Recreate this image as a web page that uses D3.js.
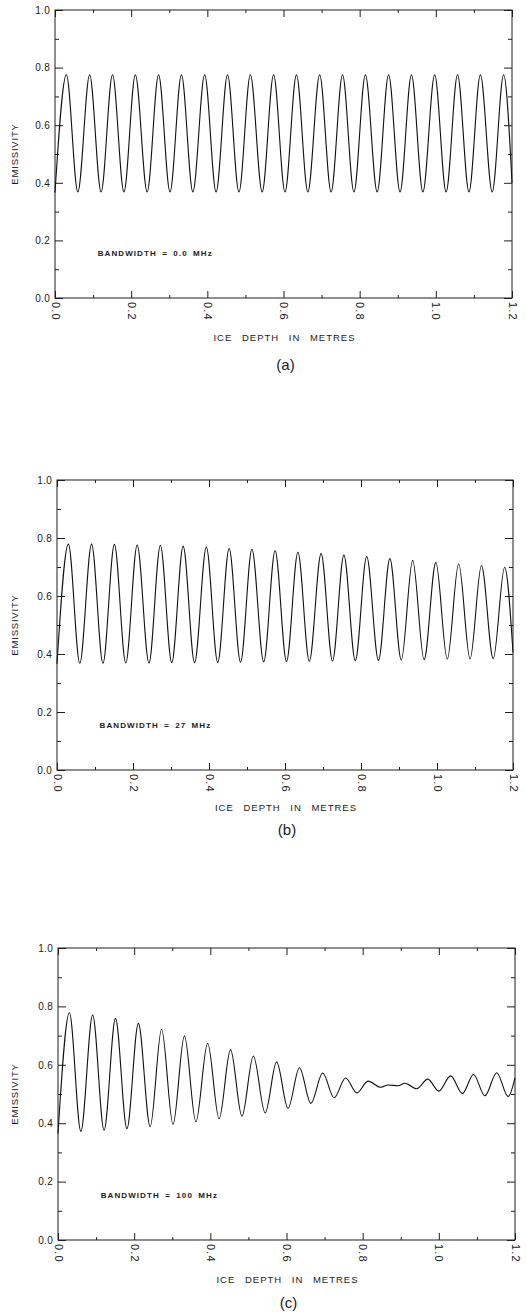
<!DOCTYPE html>
<html>
<head>
<meta charset="utf-8">
<script src="https://cdn.jsdelivr.net/npm/d3@7"></script>
<style>
  body { margin: 0; background: #fff; }
  text { font-family: "Liberation Sans", Arial, sans-serif; fill: #1a1a1a; }
</style>
</head>
<body>
<div id="chart"></div>
<script>
const WIDTH = 526, HEIGHT = 1315;

// ticks
const depthMajor = [0, 0.2, 0.4, 0.6, 0.8, 1.0, 1.2];
const depthMinor = [0.1, 0.3, 0.5, 0.7, 0.9, 1.1];
const emisMajor = [0, 0.2, 0.4, 0.6, 0.8, 1.0];
const emisMinor = [0.1, 0.3, 0.5, 0.7, 0.9];

// depths (m) of the troughs / peaks (a) and (b), plus the end point
const depthAB = [
  0.000, 0.030, 0.060, 0.091, 0.121, 0.151, 0.181, 0.211, 0.242, 0.272,
  0.302, 0.332, 0.362, 0.393, 0.423, 0.453, 0.483, 0.513, 0.544, 0.574,
  0.604, 0.634, 0.664, 0.695, 0.725, 0.755, 0.785, 0.815, 0.846, 0.876,
  0.906, 0.936, 0.966, 0.997, 1.027, 1.057, 1.087, 1.117, 1.148, 1.178,
  1.200
];
// (a) bandwidth 0.0 MHz
const emisA = [
  0.366, 0.775, 0.368, 0.775, 0.368, 0.775, 0.368, 0.775, 0.368, 0.775,
  0.368, 0.775, 0.368, 0.775, 0.368, 0.775, 0.368, 0.775, 0.368, 0.775,
  0.368, 0.775, 0.368, 0.775, 0.368, 0.775, 0.368, 0.775, 0.368, 0.775,
  0.368, 0.775, 0.368, 0.775, 0.368, 0.775, 0.368, 0.775, 0.368, 0.775,
  0.400
];
// (b) bandwidth 27 MHz
const emisB = [
  0.366, 0.779, 0.368, 0.779, 0.368, 0.778, 0.369, 0.776, 0.369, 0.775,
  0.370, 0.772, 0.370, 0.769, 0.371, 0.764, 0.372, 0.761, 0.373, 0.756,
  0.374, 0.751, 0.375, 0.746, 0.376, 0.741, 0.377, 0.736, 0.378, 0.729,
  0.379, 0.723, 0.380, 0.716, 0.382, 0.711, 0.383, 0.705, 0.384, 0.699,
  0.405
];
// (c) bandwidth 100 MHz
const depthC = [
  0.000, 0.030, 0.060, 0.091, 0.121, 0.151, 0.181, 0.211, 0.242, 0.272,
  0.302, 0.332, 0.362, 0.393, 0.423, 0.453, 0.483, 0.513, 0.544, 0.574,
  0.604, 0.634, 0.664, 0.695, 0.725, 0.755, 0.785, 0.814, 0.848, 0.867,
  0.893, 0.911, 0.942, 0.971, 1.000, 1.031, 1.062, 1.091, 1.121, 1.152,
  1.182, 1.200
];
const emisC = [
  0.365, 0.778, 0.372, 0.771, 0.376, 0.759, 0.381, 0.742, 0.388, 0.722,
  0.396, 0.699, 0.405, 0.674, 0.415, 0.652, 0.424, 0.630, 0.435, 0.610,
  0.451, 0.590, 0.468, 0.572, 0.487, 0.555, 0.504, 0.544, 0.523, 0.531,
  0.528, 0.537, 0.518, 0.551, 0.510, 0.562, 0.502, 0.567, 0.494, 0.573,
  0.491, 0.555
];

const bandwidths = ["0.0", "27", "100"];
const panelNames = ["(a)", "(b)", "(c)"];

// panel boxes in pixels
const layout = [
  { left: 55, right: 512, top: 10, bottom: 298, xLabel: 338, name: 365 },
  { left: 57, right: 513, top: 480, bottom: 770, xLabel: 808, name: 830 },
  { left: 58, right: 515, top: 948, bottom: 1240, xLabel: 1280, name: 1303 }
];

const series = [
  { depth: depthAB, emis: emisA },
  { depth: depthAB, emis: emisB },
  { depth: depthC, emis: emisC }
];

let svg = d3
  .select("#chart")
  .append("svg")
  .attr("width", WIDTH)
  .attr("height", HEIGHT);

svg.append("rect").attr("width", WIDTH).attr("height", HEIGHT).attr("fill", "#fff");

const INK = "#1e1e1e";

layout.forEach((box, i) => {
  let x = d3.scaleLinear().domain([0, 1.2]).range([box.left, box.right]);
  let y = d3.scaleLinear().domain([0, 1]).range([box.bottom, box.top]);
  let g = svg.append("g").attr("class", "panel");

  //frame
  g.append("rect")
    .attr("x", box.left)
    .attr("y", box.top)
    .attr("width", box.right - box.left)
    .attr("height", box.bottom - box.top)
    .attr("fill", "none")
    .attr("stroke", INK)
    .attr("stroke-width", 1);

  //major + minor ticks on all four sides, pointing inward
  const axes = [
    { a: d3.axisBottom(x).tickValues(depthMajor).tickSize(-7), at: `translate(0,${box.bottom})`, labels: true },
    { a: d3.axisBottom(x).tickValues(depthMinor).tickSize(-3), at: `translate(0,${box.bottom})` },
    { a: d3.axisTop(x).tickValues(depthMajor).tickSize(-7), at: `translate(0,${box.top})` },
    { a: d3.axisTop(x).tickValues(depthMinor).tickSize(-3), at: `translate(0,${box.top})` },
    { a: d3.axisLeft(y).tickValues(emisMajor).tickSize(-8).tickPadding(5), at: `translate(${box.left},0)`, labels: true },
    { a: d3.axisLeft(y).tickValues(emisMinor).tickSize(-4), at: `translate(${box.left},0)` },
    { a: d3.axisRight(y).tickValues(emisMajor).tickSize(-8), at: `translate(${box.right},0)` },
    { a: d3.axisRight(y).tickValues(emisMinor).tickSize(-4), at: `translate(${box.right},0)` }
  ];
  axes.forEach((ax) => {
    let sel = g.append("g")
      .attr("transform", ax.at)
      .call(ax.a.tickSizeOuter(0).tickFormat(d3.format(".1f")));
    sel.select(".domain").remove();
    sel.selectAll("line").attr("stroke", INK).attr("stroke-width", 1);
    if (!ax.labels) {
      sel.selectAll("text").remove();
    }
  });

  //y tick labels
  g.selectAll(".tick text")
    .style("font-size", "10px")
    .style("letter-spacing", "0.3px")
    .attr("fill", INK);

  //x tick labels are turned to read downward
  g.select("g").selectAll(".tick text")
    .attr("transform", "rotate(90)")
    .attr("x", 4)
    .attr("y", 0)
    .attr("dy", "0.36em")
    .style("text-anchor", "start")
    .style("font-size", "11px")
    .style("letter-spacing", "1.2px");

  //the curve
  let data = series[i].depth.map((d, j) => ({ depth: d, emis: series[i].emis[j] }));
  let line = d3.line()
    .x((d) => x(d.depth))
    .y((d) => y(d.emis))
    .curve(d3.curveMonotoneX);
  g.append("path")
    .datum(data)
    .attr("d", line)
    .attr("fill", "none")
    .attr("stroke", "#111")
    .attr("stroke-width", 1.1);

  //labels
  g.append("text")
    .attr("x", x(0.112))
    .attr("y", y(0.155))
    .attr("dy", "0.35em")
    .style("font-size", "8px")
    .style("font-weight", "bold")
    .style("letter-spacing", "1.1px")
    .style("word-spacing", "2px")
    .text("BANDWIDTH = " + bandwidths[i] + " MHz");

  g.append("text")
    .attr("transform", `translate(15,${(box.top + box.bottom) / 2}) rotate(-90)`)
    .attr("dy", "0.35em")
    .style("text-anchor", "middle")
    .style("font-size", "9.5px")
    .style("letter-spacing", "0.8px")
    .text("EMISSIVITY");

  g.append("text")
    .attr("x", (box.left + box.right) / 2 + 1)
    .attr("y", box.xLabel)
    .attr("dy", "0.35em")
    .style("text-anchor", "middle")
    .style("font-size", "9.5px")
    .style("letter-spacing", "1px")
    .style("word-spacing", "6px")
    .text("ICE DEPTH IN METRES");

  g.append("text")
    .attr("x", (box.left + box.right) / 2 + 2)
    .attr("y", box.name)
    .attr("dy", "0.35em")
    .style("text-anchor", "middle")
    .style("font-size", "15px")
    .text(panelNames[i]);
});
</script>
</body>
</html>
